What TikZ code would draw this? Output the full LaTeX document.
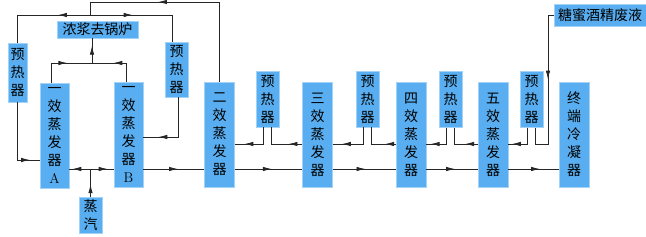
\documentclass[tikz,border=0pt]{standalone}
\usepackage{fontspec}
\newfontfamily\cjk{Noto Sans CJK SC}
\usepackage{xcolor}
\usepackage{tikz}
\usetikzlibrary{arrows.meta,decorations.markings}
\definecolor{azul}{RGB}{88,174,240}

\begin{document}
\begin{tikzpicture}[x=1pt,y=-1pt,
  caja/.style={fill=azul,draw=azul!55!white,line width=0.6pt,inner sep=0pt,
               align=center,font=\cjk\fontsize{14pt}{18pt}\selectfont},
  evap/.style={caja,minimum width=30pt,minimum height=105pt},
  pre/.style={caja,minimum width=23pt,minimum height=56pt},
  fl/.style={line width=0.9pt,draw=black!85,postaction={decorate},
    decoration={markings,mark=at position #1 with {\arrow{Latex[length=9pt,width=4.5pt]}}}},
  fl/.default=0.5,
  ln/.style={line width=0.9pt,draw=black!85}]
  \useasboundingbox (0,0) rectangle (646,237);
  % cajas
  \node[pre,minimum width=19pt,minimum height=59pt] (ph0) at (17.5,72.5) {预\\热\\器};
  \node[caja,minimum width=81pt,minimum height=17pt] (caldera) at (97.5,29.5) {浓浆去锅炉};
  \node[evap,minimum width=29pt] (evA) at (54.5,135.5) {一\\效\\蒸\\发\\器\\{\normalfont A}};
  \node[evap,minimum width=29pt] (evB) at (128.5,134.5) {一\\效\\蒸\\发\\器\\{\normalfont B}};
  \node[pre,minimum height=55pt] (ph1) at (176.5,69.5) {预\\热\\器};
  \node[evap] (ev2) at (219.5,134.5) {二\\效\\蒸\\发\\器};
  \node[pre] (ph2) at (267.5,99) {预\\热\\器};
  \node[evap] (ev3) at (317.5,134.5) {三\\效\\蒸\\发\\器};
  \node[pre] (ph3) at (367.5,99) {预\\热\\器};
  \node[evap] (ev4) at (411,134.5) {四\\效\\蒸\\发\\器};
  \node[pre] (ph4) at (450.5,99.5) {预\\热\\器};
  \node[evap] (ev5) at (493,134.5) {五\\效\\蒸\\发\\器};
  \node[pre] (ph5) at (531.5,99.5) {预\\热\\器};
  \node[evap] (cond) at (574,134.5) {终\\端\\冷\\凝\\器};
  \node[caja,minimum width=92pt,minimum height=22pt] (melaza) at (600,15) {糖蜜酒精废液};
  \node[caja,minimum width=23pt,minimum height=36pt] (vapor) at (90.5,215) {蒸\\汽};
  % puntos de union
  \coordinate (cima) at (90,2);
  \coordinate (rep) at (90,15);
  \coordinate (union) at (92,63);
  \coordinate (sj) at (90.5,169);
  \coordinate (lq) at (0,144);
  \coordinate (caida) at (548,144);
  % vapor secundario
  \draw[fl=0.675] (ev2.north) |- (cima);
  \draw[ln] (cima) -- (rep);
  \draw[fl=0.32] (rep) -| (ph0.north);
  \draw[fl=0.39] (rep) -| ([xshift=-4pt]ph1.north);
  \draw[fl=0.88] (ph0.south) |- ([yshift=-24.5pt]evA.west);
  \draw[fl=0.8] ([xshift=2pt]ph1.south) |- ([yshift=-2.5pt]evB.east);
  % concentrado
  \draw[fl=0.59] ([xshift=-3pt]evA.north) |- (union);
  \draw[fl=0.6] ([xshift=-2pt]evB.north) |- (union);
  \draw[fl=0.7] (union) -- (union |- caldera.south);
  % vapor vivo
  \draw[fl=0.45] (vapor.north) -- (sj);
  \draw[fl=0.86] (sj) -- (evA.east |- sj);
  \draw[fl=0.74] (sj) -- (evB.west |- sj);
  \foreach \a/\b/\p in {evB/ev2/0.57,ev2/ev3/0.55,ev3/ev4/0.52,ev4/ev5/0.56,ev5/cond/0.63}
    \draw[fl=\p] (\a.east |- sj) -- (\b.west |- sj);
  % liquido
  \foreach \e/\h/\p in {ev2/ph2/0.79,ev3/ph3/0.81,ev4/ph4/0.88,ev5/ph5/0.9}
    \draw[fl=\p] ([xshift=-4pt]\h.south) |- (\e.east |- lq);
  \foreach \e/\h/\p in {ev3/ph2/0.29,ev4/ph3/0.26,ev5/ph4/0.32}
    \draw[fl=\p] (\e.west |- lq) -| ([xshift=4pt]\h.south);
  \draw[fl=0.43] (melaza.west) -| (caida) -| ([xshift=4pt]ph5.south);
\end{tikzpicture}
\end{document}
